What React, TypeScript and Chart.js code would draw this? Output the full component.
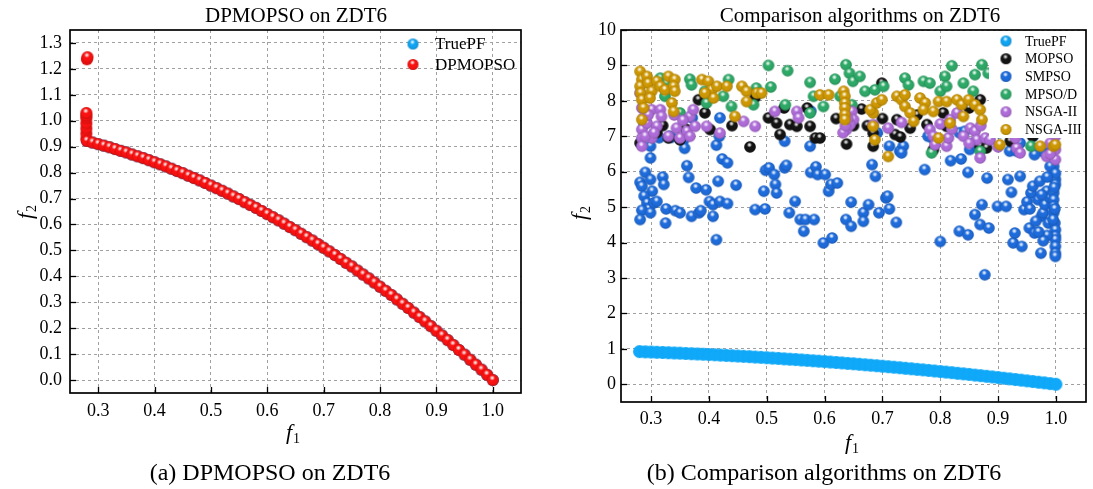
import React, { useEffect, useRef } from 'react';
import { Chart, registerables } from 'chart.js';

Chart.register(...registerables);

const SERIF = '"Liberation Serif", "Times New Roman", Times, serif';

// ---------- tick labels ----------
const F1_TICKS = [0.3, 0.4, 0.5, 0.6, 0.7, 0.8, 0.9, 1.0];
const LEFT_F2_TICKS = [0, 0.1, 0.2, 0.3, 0.4, 0.5, 0.6, 0.7, 0.8, 0.9, 1.0, 1.1, 1.2, 1.3];
const RIGHT_F2_TICKS = [0, 1, 2, 3, 4, 5, 6, 7, 8, 9, 10];

// ---------- true Pareto front (read along the plotted band) ----------
const PF_F1 = [0.28, 0.29, 0.30, 0.31, 0.32, 0.33, 0.34, 0.35, 0.36, 0.37, 0.38, 0.39, 0.40, 0.41, 0.42, 0.43, 0.44, 0.45, 0.46, 0.47, 0.48, 0.49, 0.50, 0.51, 0.52, 0.53, 0.54, 0.55, 0.56, 0.57, 0.58, 0.59, 0.60, 0.61, 0.62, 0.63, 0.64, 0.65, 0.66, 0.67, 0.68, 0.69, 0.70, 0.71, 0.72, 0.73, 0.74, 0.75, 0.76, 0.77, 0.78, 0.79, 0.80, 0.81, 0.82, 0.83, 0.84, 0.85, 0.86, 0.87, 0.88, 0.89, 0.90, 0.91, 0.92, 0.93, 0.94, 0.95, 0.96, 0.97, 0.98, 0.99, 1.00];
const PF_F2 = [0.922, 0.916, 0.910, 0.904, 0.898, 0.891, 0.884, 0.878, 0.870, 0.863, 0.856, 0.848, 0.840, 0.832, 0.824, 0.815, 0.806, 0.798, 0.788, 0.779, 0.770, 0.760, 0.750, 0.740, 0.730, 0.719, 0.708, 0.698, 0.686, 0.675, 0.664, 0.652, 0.640, 0.628, 0.616, 0.603, 0.590, 0.578, 0.564, 0.551, 0.538, 0.524, 0.510, 0.496, 0.482, 0.467, 0.452, 0.438, 0.422, 0.407, 0.392, 0.376, 0.360, 0.344, 0.328, 0.311, 0.294, 0.278, 0.260, 0.243, 0.226, 0.208, 0.190, 0.172, 0.154, 0.135, 0.116, 0.098, 0.078, 0.059, 0.040, 0.020, 0.000];

// ---------- DPMOPSO (left panel) ----------
const DP_STEM_F1 = [0.279, 0.279, 0.279, 0.279, 0.279, 0.279, 0.279, 0.280, 0.281];
const DP_STEM_F2 = [0.93, 0.95, 0.97, 0.99, 1.01, 1.02, 1.03, 1.237, 1.245];
const DP_CURVE_F1 = PF_F1;
const DP_CURVE_F2 = PF_F2;

// ---------- comparison algorithms (right panel) ----------
const MOPSO: [number, number][] = [
  [0.281, 6.81], [0.330, 6.95], [0.350, 6.90], [0.382, 8.03], [0.393, 7.66], [0.402, 7.19], [0.471, 6.70],
  [0.503, 7.52], [0.517, 7.37], [0.523, 7.05], [0.540, 7.33], [0.552, 7.28], [0.575, 7.28], [0.584, 6.95],
  [0.592, 6.95], [0.638, 6.78], [0.664, 7.77], [0.674, 7.30], [0.684, 6.72], [0.684, 7.09], [0.699, 8.50],
  [0.722, 7.05], [0.731, 6.98], [0.725, 7.47], [0.748, 7.23], [0.777, 7.33], [0.788, 6.62], [0.869, 6.72],
  [0.880, 6.67], [0.921, 6.86], [0.805, 7.66], [0.811, 7.28], [0.869, 8.03], [0.310, 7.10], [0.320, 7.30],
  [0.360, 7.20], [0.440, 7.30], [0.480, 8.10], [0.530, 7.80], [0.570, 7.80], [0.620, 7.50], [0.650, 7.30],
  [0.700, 7.50], [0.760, 7.60], [0.850, 7.80], [0.900, 7.50], [0.960, 7.00], [0.990, 7.20],
];

const SMPSO: [number, number][] = [
  [0.281, 5.70], [0.284, 5.59], [0.290, 5.98], [0.299, 5.78], [0.302, 5.45], [0.288, 5.31], [0.293, 5.12],
  [0.296, 4.95], [0.284, 4.91], [0.281, 4.65], [0.299, 4.84], [0.305, 5.12], [0.310, 5.16], [0.320, 5.85],
  [0.322, 5.64], [0.325, 4.55], [0.326, 4.95], [0.342, 4.90], [0.350, 4.84], [0.362, 6.17], [0.365, 5.84],
  [0.370, 4.74], [0.378, 5.54], [0.383, 4.84], [0.386, 4.90], [0.395, 5.49], [0.401, 5.16], [0.407, 4.74],
  [0.413, 4.08], [0.407, 5.07], [0.416, 5.73], [0.419, 5.16], [0.423, 6.36], [0.432, 6.25], [0.432, 5.10],
  [0.447, 5.62], [0.299, 6.39], [0.299, 6.72], [0.335, 6.97], [0.356, 6.89], [0.358, 6.66], [0.413, 6.75],
  [0.418, 7.00], [0.419, 7.52], [0.288, 7.33], [0.480, 4.93], [0.495, 5.45], [0.497, 4.95], [0.498, 6.04],
  [0.504, 6.11], [0.513, 5.92], [0.515, 5.64], [0.517, 5.40], [0.531, 6.11], [0.534, 6.18], [0.539, 4.84],
  [0.549, 5.16], [0.558, 4.65], [0.564, 4.32], [0.567, 4.65], [0.576, 5.98], [0.582, 4.65], [0.585, 6.14],
  [0.588, 5.92], [0.601, 5.92], [0.607, 5.45], [0.611, 5.64], [0.622, 5.68], [0.598, 3.99], [0.613, 4.13],
  [0.637, 4.65], [0.646, 4.46], [0.646, 5.14], [0.667, 4.84], [0.667, 4.60], [0.676, 5.07], [0.682, 6.20],
  [0.688, 5.87], [0.694, 4.84], [0.706, 5.26], [0.709, 5.31], [0.712, 4.95], [0.724, 4.57], [0.531, 6.86],
  [0.575, 6.72], [0.576, 7.71], [0.730, 6.58], [0.736, 6.72], [0.788, 6.93], [0.773, 6.06], [0.800, 4.03],
  [0.818, 6.31], [0.833, 4.32], [0.836, 6.36], [0.848, 5.98], [0.848, 4.22], [0.860, 4.79], [0.869, 4.51],
  [0.872, 5.07], [0.881, 5.82], [0.884, 4.41], [0.877, 3.09], [0.899, 5.02], [0.914, 5.02], [0.917, 5.78],
  [0.923, 5.42], [0.926, 3.99], [0.929, 4.27], [0.938, 5.87], [0.941, 3.89], [0.945, 4.93], [0.954, 4.41],
  [0.957, 5.40], [0.960, 5.59], [0.963, 4.27], [0.969, 5.21], [0.972, 5.73], [0.975, 4.74], [0.974, 3.70],
  [0.978, 4.84], [0.981, 5.07], [0.984, 5.45], [0.987, 4.55], [0.990, 5.26], [0.993, 5.85], [0.996, 5.40],
  [0.996, 5.21], [0.996, 5.02], [0.996, 4.84], [0.998, 4.55], [0.999, 4.36], [0.999, 4.18], [0.999, 4.08],
  [0.999, 3.89], [0.999, 3.70], [0.999, 3.61], [0.996, 6.15], [0.999, 5.78], [0.999, 5.64], [0.990, 6.15],
  [0.987, 6.48], [0.975, 6.58], [0.833, 7.10], [0.851, 6.63], [0.863, 6.72], [0.920, 6.58], [0.932, 6.58],
  [0.963, 6.48], [0.926, 6.91], [0.314, 6.96], [0.332, 7.00], [0.371, 7.52], [0.691, 7.10], [0.712, 6.72],
  [0.733, 6.53], [0.779, 7.00], [0.842, 7.14], [0.857, 6.81], [0.902, 7.10], [0.938, 6.81], [0.960, 7.00],
  [0.993, 6.63], [0.995, 4.65], [0.998, 4.95], [0.997, 5.55], [0.999, 5.95], [0.985, 4.20], [0.978, 4.05],
  [0.970, 4.30], [0.965, 4.60], [0.950, 5.15], [0.955, 4.95], [0.985, 5.85], [0.975, 5.35],
];

const MPSOD: [number, number][] = [
  [0.367, 8.61], [0.370, 8.45], [0.393, 8.27], [0.396, 7.94], [0.425, 8.13], [0.434, 8.60], [0.439, 7.84],
  [0.477, 7.89], [0.482, 8.36], [0.503, 9.00], [0.507, 8.39], [0.536, 8.85], [0.532, 7.89], [0.575, 8.52],
  [0.581, 8.13], [0.575, 7.66], [0.598, 7.84], [0.618, 8.61], [0.627, 8.13], [0.637, 9.02], [0.643, 8.78],
  [0.649, 8.55], [0.661, 8.69], [0.670, 8.27], [0.647, 7.89], [0.687, 8.31], [0.702, 8.41], [0.739, 8.64],
  [0.745, 8.45], [0.771, 8.55], [0.782, 8.50], [0.800, 8.27], [0.808, 8.69], [0.820, 8.99], [0.811, 8.41],
  [0.840, 8.50], [0.860, 8.74], [0.872, 9.02], [0.857, 8.27], [0.785, 6.53], [0.869, 6.58], [0.883, 8.78],
  [0.350, 7.66], [0.324, 8.13], [0.316, 8.64], [0.327, 8.50], [0.900, 8.80], [0.930, 8.50], [0.957, 6.72],
  [0.995, 8.20], [0.999, 8.79],
];

const NSGA2: [number, number][] = [
  [0.281, 8.22], [0.284, 7.80], [0.287, 7.52], [0.284, 7.19], [0.284, 6.95], [0.284, 6.72], [0.293, 7.37],
  [0.301, 7.75], [0.301, 6.95], [0.310, 7.28], [0.316, 7.75], [0.318, 7.56], [0.330, 7.00], [0.344, 7.23],
  [0.350, 6.95], [0.362, 7.14], [0.367, 7.56], [0.373, 7.75], [0.376, 7.28], [0.367, 7.00], [0.396, 7.28],
  [0.419, 7.09], [0.460, 7.42], [0.480, 7.28], [0.514, 7.70], [0.552, 7.70], [0.555, 7.52], [0.638, 7.19],
  [0.647, 7.70], [0.650, 7.47], [0.644, 7.33], [0.684, 7.33], [0.710, 7.23], [0.733, 7.39], [0.782, 7.19],
  [0.788, 7.00], [0.791, 6.76], [0.811, 6.72], [0.814, 6.95], [0.817, 7.47], [0.829, 7.66], [0.852, 7.23],
  [0.860, 7.14], [0.863, 6.90], [0.869, 6.39], [0.878, 6.95], [0.886, 6.90], [0.932, 6.67], [0.938, 6.53],
  [0.955, 7.19], [0.984, 6.43], [0.999, 6.34], [0.999, 6.62], [0.999, 7.00], [0.290, 7.00], [0.295, 7.60],
  [0.305, 7.10], [0.340, 7.60], [0.355, 7.45], [0.632, 7.10], [0.636, 7.30], [0.640, 7.50], [0.800, 7.35],
  [0.820, 7.20], [0.840, 7.00], [0.850, 6.80], [0.870, 7.30], [0.900, 6.70], [0.930, 6.95], [0.990, 6.50],
  [0.990, 6.80],
];

const NSGA3: [number, number][] = [
  [0.281, 8.83], [0.284, 8.60], [0.281, 8.41], [0.282, 8.22], [0.284, 8.03], [0.287, 7.80], [0.284, 7.47],
  [0.293, 8.69], [0.295, 8.50], [0.301, 8.27], [0.298, 8.08], [0.310, 8.55], [0.316, 8.41], [0.324, 8.31],
  [0.330, 8.69], [0.341, 8.60], [0.339, 8.41], [0.341, 8.27], [0.336, 7.94], [0.339, 7.70], [0.388, 8.60],
  [0.399, 8.55], [0.405, 8.31], [0.414, 8.41], [0.408, 8.08], [0.393, 8.22], [0.431, 8.41], [0.457, 8.41],
  [0.465, 8.27], [0.465, 7.98], [0.483, 8.22], [0.491, 8.22], [0.445, 7.56], [0.592, 8.17], [0.607, 8.17],
  [0.633, 8.27], [0.635, 8.13], [0.635, 7.94], [0.635, 7.80], [0.635, 7.61], [0.635, 7.47], [0.687, 6.90],
  [0.684, 7.66], [0.684, 7.28], [0.679, 7.75], [0.690, 7.94], [0.699, 8.03], [0.710, 6.43], [0.725, 8.13],
  [0.733, 8.03], [0.739, 8.17], [0.739, 7.84], [0.748, 7.66], [0.754, 7.42], [0.765, 8.08], [0.774, 7.94],
  [0.771, 7.75], [0.788, 7.70], [0.797, 7.98], [0.797, 6.95], [0.811, 7.98], [0.817, 7.37], [0.829, 8.03],
  [0.837, 7.89], [0.840, 7.56], [0.849, 8.03], [0.860, 7.89], [0.869, 7.75], [0.872, 7.47], [0.903, 6.76],
  [0.973, 6.72], [0.996, 6.72], [0.999, 6.76],
];

// ---------- helpers ----------
function sphere(color: string, r: number, flat = false): HTMLCanvasElement {
  const s = Math.ceil(2 * r) + 2;
  const c = document.createElement('canvas');
  c.width = s;
  c.height = s;
  const g = c.getContext('2d')!;
  const cx = s / 2;
  const cy = s / 2;
  g.beginPath();
  g.arc(cx, cy, r, 0, Math.PI * 2);
  g.closePath();
  g.fillStyle = color;
  g.fill();
  if (!flat) {
    const sh = g.createRadialGradient(cx - r * 0.2, cy - r * 0.3, r * 0.2, cx, cy, r);
    sh.addColorStop(0, 'rgba(0,0,0,0)');
    sh.addColorStop(0.7, 'rgba(0,0,0,0.04)');
    sh.addColorStop(1, 'rgba(0,0,0,0.22)');
    g.fillStyle = sh;
    g.fill();
    const hx = cx - r * 0.1;
    const hy = cy - r * 0.35;
    const hl = g.createRadialGradient(hx, hy, 0, hx, hy, r * 0.45);
    hl.addColorStop(0, 'rgba(255,255,255,1)');
    hl.addColorStop(0.35, 'rgba(255,255,255,0.75)');
    hl.addColorStop(1, 'rgba(255,255,255,0)');
    g.fillStyle = hl;
    g.fill();
  }
  return c;
}

function drawF(ctx: CanvasRenderingContext2D, sub: string, x: number, y: number, rot: number) {
  ctx.save();
  ctx.translate(x, y);
  ctx.rotate(rot);
  ctx.fillStyle = '#000';
  ctx.textBaseline = 'alphabetic';
  ctx.textAlign = 'left';
  ctx.font = `italic 22px ${SERIF}`;
  const wf = ctx.measureText('f').width;
  ctx.font = `14px ${SERIF}`;
  const ws = ctx.measureText(sub).width;
  const total = wf + ws + 1;
  ctx.font = `italic 22px ${SERIF}`;
  ctx.fillText('f', -total / 2, 6);
  ctx.font = `14px ${SERIF}`;
  ctx.fillText(sub, -total / 2 + wf + 1, 10);
  ctx.restore();
}

interface LegendItem { label: string; img: HTMLCanvasElement }
interface Deco {
  title: string;
  titleX: number;
  titleY: number;
  f1: [number, number];
  f2: [number, number];
  legend: LegendItem[];
  legendX: number;
  textX: number;
  legendY: number;
  legendGap: number;
  legendFont: number;
  legendBg?: [number, number, number, number];
}

function makeDeco(d: Deco) {
  return {
    id: 'deco',
    afterDraw(chart: any) {
      const { ctx, chartArea: a, scales } = chart;
      ctx.save();
      if (d.legendBg) {
        ctx.fillStyle = '#fff';
        ctx.fillRect(d.legendBg[0], d.legendBg[1], d.legendBg[2], d.legendBg[3]);
      }
      ctx.strokeStyle = '#000';
      ctx.lineWidth = 1.3;
      scales.x.ticks.forEach((t: any) => {
        const x = Math.round(scales.x.getPixelForValue(t.value)) + 0.5;
        ctx.beginPath();
        ctx.moveTo(x, a.bottom);
        ctx.lineTo(x, a.bottom - 6);
        ctx.stroke();
      });
      scales.y.ticks.forEach((t: any) => {
        const y = Math.round(scales.y.getPixelForValue(t.value)) + 0.5;
        ctx.beginPath();
        ctx.moveTo(a.left, y);
        ctx.lineTo(a.left + 6, y);
        ctx.stroke();
      });
      ctx.lineWidth = 1.7;
      ctx.strokeRect(a.left, a.top, a.right - a.left, a.bottom - a.top);
      d.legend.forEach((it, i) => {
        const y = d.legendY + i * d.legendGap;
        ctx.drawImage(it.img, d.legendX - it.img.width / 2, y - it.img.height / 2);
        ctx.fillStyle = '#000';
        ctx.font = `${d.legendFont}px ${SERIF}`;
        ctx.textBaseline = 'middle';
        ctx.textAlign = 'left';
        ctx.fillText(it.label, d.textX, y + 1);
      });
      ctx.fillStyle = '#000';
      ctx.font = `21px ${SERIF}`;
      ctx.textAlign = 'center';
      ctx.textBaseline = 'middle';
      ctx.fillText(d.title, d.titleX, d.titleY);
      ctx.restore();
      drawF(ctx, '1', d.f1[0], d.f1[1], 0);
      drawF(ctx, '2', d.f2[0], d.f2[1], -Math.PI / 2);
    },
  };
}

function axes(xMin: number, xMax: number, xTicks: number[], yTicks: number[], yMin: number, yMax: number, yWidth: number, xHeight: number, yDigits: number, yPad: number, xPad: number) {
  const gridColor = '#a0a0a0';
  return {
    x: {
      type: 'linear',
      min: xMin,
      max: xMax,
      afterBuildTicks: (ax: any) => { ax.ticks = xTicks.map((v) => ({ value: v })); },
      afterFit: (ax: any) => { ax.height = xHeight; },
      ticks: { autoSkip: false, maxRotation: 0, padding: xPad, color: '#000', font: { family: SERIF, size: 18 }, callback: (v: any) => Number(v).toFixed(1) },
      grid: { color: gridColor, lineWidth: 1, drawTicks: false },
      border: { display: false, dash: [3, 3] },
    },
    y: {
      type: 'linear',
      min: yMin,
      max: yMax,
      afterBuildTicks: (ax: any) => { ax.ticks = yTicks.map((v) => ({ value: v })); },
      afterFit: (ax: any) => { ax.width = yWidth; },
      ticks: { autoSkip: false, padding: yPad, color: '#000', font: { family: SERIF, size: 18 }, callback: (v: any) => Number(v).toFixed(yDigits) },
      grid: { color: gridColor, lineWidth: 1, drawTicks: false },
      border: { display: false, dash: [3, 3] },
    },
  };
}

const toPts = (xs: number[], ys: number[]) => xs.map((x, i) => ({ x, y: ys[i] }));
const pairPts = (p: [number, number][]) => p.map(([x, y]) => ({ x, y }));

const C_TRUEPF = '#10a8f8';
const C_RED = '#ff1212';
const C_MOPSO = '#141414';
const C_SMPSO = '#1f6ee0';
const C_MPSOD = '#2fad6a';
const C_NSGA2 = '#b26fdd';
const C_NSGA3 = '#d29b05';

function buildLeft() {
  const red = sphere(C_RED, 6);
  const blue = sphere(C_TRUEPF, 6);
  return {
    type: 'scatter',
    data: {
      datasets: [
        { label: 'DPMOPSO', data: [...toPts(DP_STEM_F1, DP_STEM_F2), ...toPts(DP_CURVE_F1, DP_CURVE_F2)], pointStyle: red, order: 0 },
        { label: 'TruePF', data: toPts(PF_F1, PF_F2), pointStyle: blue, order: 1 },
      ],
    },
    options: {
      animation: false,
      responsive: true,
      maintainAspectRatio: false,
      events: [],
      layout: { padding: { top: 30, right: 25, left: 0, bottom: 0 } },
      plugins: { legend: { display: false }, tooltip: { enabled: false }, title: { display: false } },
      scales: axes(0.25, 1.05, F1_TICKS, LEFT_F2_TICKS, -0.05, 1.35, 70, 96, 1, 8, 7),
    },
    plugins: [
      makeDeco({
        title: 'DPMOPSO on ZDT6', titleX: 296, titleY: 16,
        f1: [293, 433], f2: [26, 212],
        legend: [{ label: 'TruePF', img: sphere(C_TRUEPF, 5.5) }, { label: 'DPMOPSO', img: sphere(C_RED, 5.5) }],
        legendX: 413, textX: 435, legendY: 44, legendGap: 20.5, legendFont: 17,
      }),
    ],
  };
}

function buildRight() {
  const R = 5.8;
  return {
    type: 'scatter',
    data: {
      datasets: [
        { label: 'NSGA-III', data: pairPts(NSGA3), pointStyle: sphere(C_NSGA3, R), order: 0 },
        { label: 'NSGA-II', data: pairPts(NSGA2), pointStyle: sphere(C_NSGA2, R), order: 1 },
        { label: 'MPSO/D', data: pairPts(MPSOD), pointStyle: sphere(C_MPSOD, R), order: 2 },
        { label: 'MOPSO', data: pairPts(MOPSO), pointStyle: sphere(C_MOPSO, R), order: 3 },
        { label: 'SMPSO', data: pairPts(SMPSO), pointStyle: sphere(C_SMPSO, R), order: 4 },
        { label: 'TruePF', data: toPts(PF_F1, PF_F2), pointStyle: sphere(C_TRUEPF, 6.5, true), order: 5 },
      ],
    },
    options: {
      animation: false,
      responsive: true,
      maintainAspectRatio: false,
      events: [],
      layout: { padding: { top: 30, right: 7, left: 0, bottom: 0 } },
      plugins: { legend: { display: false }, tooltip: { enabled: false }, title: { display: false } },
      scales: axes(0.248, 1.052, F1_TICKS, RIGHT_F2_TICKS, -0.5, 10, 75, 87, 0, 5, 6),
    },
    plugins: [
      makeDeco({
        title: 'Comparison algorithms on ZDT6', titleX: 314, titleY: 16,
        f1: [306, 443], f2: [34, 213],
        legend: [
          { label: 'TruePF', img: sphere(C_TRUEPF, 5.5) },
          { label: 'MOPSO', img: sphere(C_MOPSO, 5.5) },
          { label: 'SMPSO', img: sphere(C_SMPSO, 5.5) },
          { label: 'MPSO/D', img: sphere(C_MPSOD, 5.5) },
          { label: 'NSGA-II', img: sphere(C_NSGA2, 5.5) },
          { label: 'NSGA-III', img: sphere(C_NSGA3, 5.5) },
        ],
        legendX: 460, textX: 479, legendY: 41, legendGap: 17.7, legendFont: 14,
        legendBg: [443, 31, 96, 107],
      }),
    ],
  };
}

function Panel({ left, width, build }: { left: number; width: number; build: () => any }) {
  const ref = useRef<HTMLCanvasElement>(null);
  useEffect(() => {
    const chart = new Chart(ref.current!, build());
    return () => chart.destroy();
  }, []);
  return (
    <div style={{ position: 'absolute', left, top: 0, width, height: 489 }}>
      <canvas ref={ref} />
    </div>
  );
}

const captionStyle: React.CSSProperties = {
  position: 'absolute',
  top: 459,
  width: 500,
  textAlign: 'center',
  fontFamily: SERIF,
  fontSize: 24,
  lineHeight: '26px',
  color: '#000',
  whiteSpace: 'nowrap',
};

export default function App() {
  return (
    <div style={{ position: 'absolute', left: 0, top: 0, width: 1093, height: 489, background: '#fff', overflow: 'hidden' }}>
      <Panel left={0} width={546} build={buildLeft} />
      <Panel left={546} width={547} build={buildRight} />
      <div style={{ ...captionStyle, left: 270 - 250 }}>(a) DPMOPSO on ZDT6</div>
      <div style={{ ...captionStyle, left: 824 - 250 }}>(b) Comparison algorithms on ZDT6</div>
    </div>
  );
}
